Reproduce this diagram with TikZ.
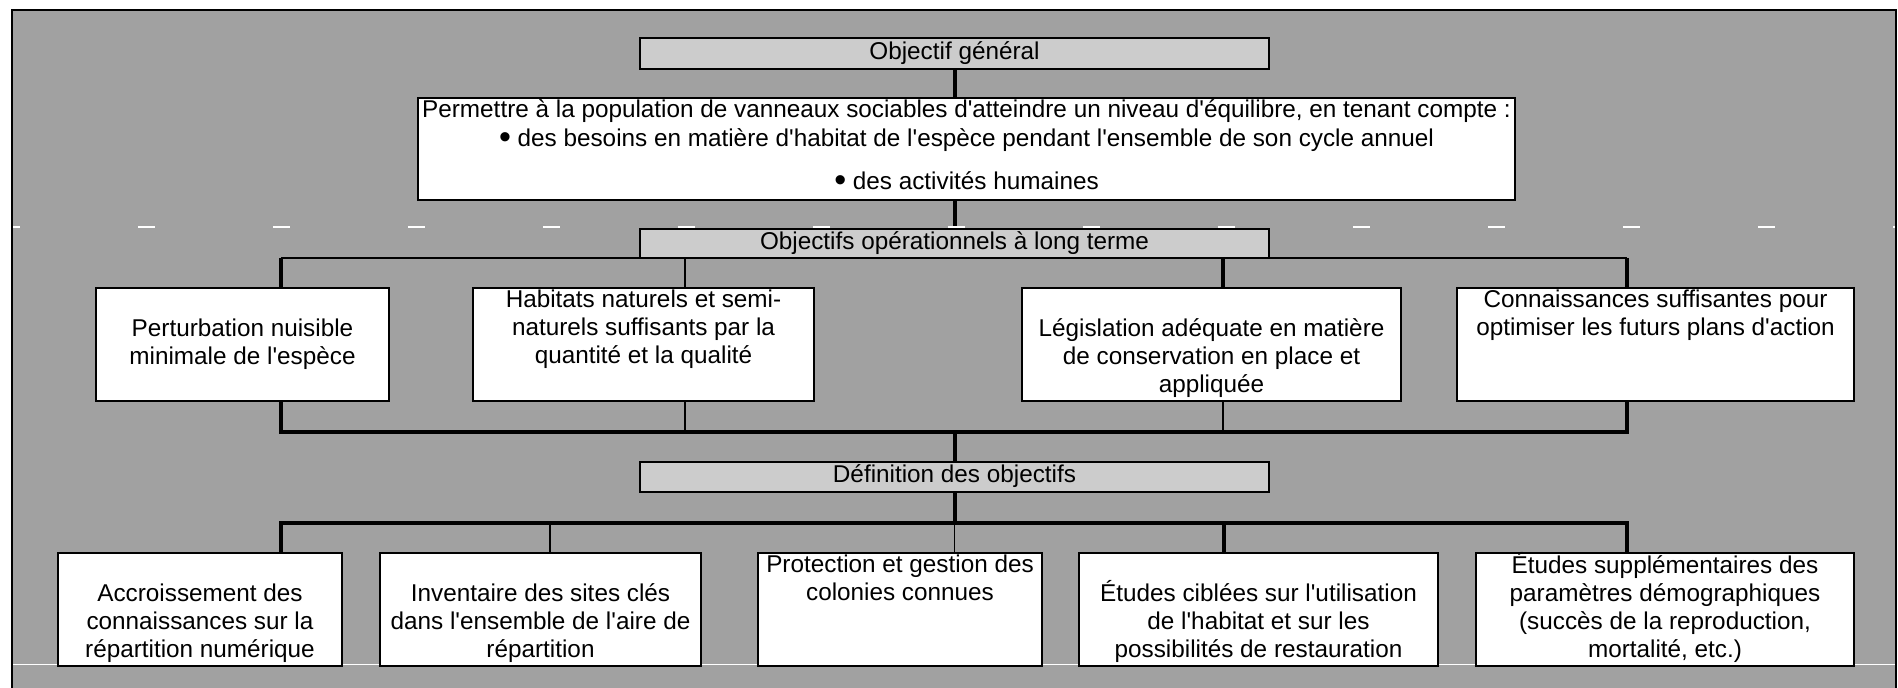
\documentclass[tikz,border=0pt]{standalone}
\usepackage{fontspec}
\setmainfont{Liberation Sans}[Ligatures=TeXOff]
\usetikzlibrary{positioning}
\definecolor{panel}{gray}{0.63}
\definecolor{headfill}{gray}{0.8}
\setlength{\lineskiplimit}{-20pt}
\newcommand{\puce}{\raisebox{-0.8pt}{\fontsize{17pt}{14pt}\selectfont\textbullet}}

\begin{document}
\begin{tikzpicture}[x=0.5pt,y=-0.5pt,line join=miter]
  \tikzstyle{box}=[draw,line width=1pt,fill=white,inner sep=0pt,outer sep=0pt,align=center,
    font=\fontsize{12.15pt}{14pt}\selectfont,execute at begin node=\strut,execute at end node=\strut]
  \tikzstyle{head}=[box,fill=headfill,minimum width=314.5pt]
  \tikzstyle{lvl}=[box,minimum height=56.5pt]
  \tikzstyle{bus}=[line width=2pt]
  \tikzstyle{twig}=[line width=0.7pt]
  \useasboundingbox (0,0) rectangle (1898,688);
  % background panel
  \draw[line width=1pt,fill=panel] (12,10) rectangle (1896,700);
  \draw[white,line width=0.5pt] (13,664) -- (1895,664);

  % general objective
  \node[head,minimum height=15.5pt] (og) at (954.5,53.5) {Objectif général};
  \node[box,minimum width=548.5pt,minimum height=51pt,font=\fontsize{12.15pt}{14.5pt}\selectfont] (goal) at (966.5,149)
    {Permettre à la population de vanneaux sociables d'atteindre un niveau d'équilibre, en tenant compte :\\
     \puce{} des besoins en matière d'habitat de l'espèce pendant l'ensemble de son cycle annuel\\[7pt]
     \puce{} des activités humaines};

  % long term objectives
  \node[head,minimum height=14.5pt] (oolt) at (954.5,243.5) {Objectifs opérationnels à long terme};
  \node[lvl,minimum width=146.5pt] (lt1) at (242.5,344.5) {\strut\\Perturbation nuisible\\minimale de l'espèce\\\strut};
  \node[lvl,minimum width=170.5pt] (lt2) at (643.5,344.5) {Habitats naturels et semi-\\naturels suffisants par la\\quantité et la qualité\\\strut};
  \node[lvl,minimum width=189.5pt] (lt3) at (1211.5,344.5) {\strut\\Législation adéquate en matière\\de conservation en place et\\appliquée};
  \node[lvl,minimum width=198.5pt] (lt4) at (1655.5,344.5) {Connaissances suffisantes pour\\optimiser les futurs plans d'action\\\strut\\\strut};

  % objectives
  \node[head,minimum height=15pt] (def) at (954.5,477) {Définition des objectifs};
  \node[lvl,minimum width=142pt] (ob1) at (200,609.5) {\strut\\Accroissement des\\connaissances sur la\\répartition numérique};
  \node[lvl,minimum width=160.5pt] (ob2) at (540.5,609.5) {\strut\\Inventaire des sites clés\\dans l'ensemble de l'aire de\\répartition};
  \node[lvl,minimum width=142pt] (ob3) at (900,609.5) {Protection et gestion des\\colonies connues\\\strut\\\strut};
  \node[lvl,minimum width=179.5pt] (ob4) at (1258.5,609.5) {\strut\\Études ciblées sur l'utilisation\\de l'habitat et sur les\\possibilités de restauration};
  \node[lvl,minimum width=189pt] (ob5) at (1665,609.5) {Études supplémentaires des\\paramètres démographiques\\(succès de la reproduction,\\mortalité, etc.)};

  % bus points
  \coordinate (ja) at (281,258);
  \coordinate (jb) at (685,258);
  \coordinate (jc) at (1223,258);
  \coordinate (jd) at (1627,258);
  \coordinate (ka) at (281,432);
  \coordinate (kd) at (1627,432);
  \coordinate (ma) at (281,523);
  \coordinate (mb) at (550,523);
  \coordinate (mc) at (1224,523);
  \coordinate (md) at (1627,523);

  \draw[bus] (og.south) -- (og.south |- goal.north);
  \draw[bus] (oolt.north |- goal.south) -- (oolt.north);
  \draw[twig] (ja) -- (jd);
  \draw[bus] (ja) -- (ja |- lt1.north);
  \draw[twig] (jb) -- (jb |- lt2.north);
  \draw[bus] (jc) -- (jc |- lt3.north);
  \draw[bus] (jd) -- (jd |- lt4.north);
  \draw[bus] (ja |- lt1.south) -- (ka) -- (kd) -- (jd |- lt4.south);
  \draw[twig] (jb |- lt2.south) -- (jb |- ka);
  \draw[twig] (jc |- lt3.south) -- (jc |- ka);
  \draw[bus] (def.north |- ka) -- (def.north);
  \draw[bus] (def.south) -- (def.south |- ma);
  \draw[bus] (ma |- ob1.north) -- (ma) -- (md) -- (md |- ob5.north);
  \draw[twig] (mb) -- (mb |- ob2.north);
  \draw[twig] (def.south |- ma) -- (def.south |- ob3.north);
  \draw[bus] (mc) -- (mc |- ob4.north);

  % white marks
  \draw[white,line width=1pt,dash pattern=on 8.5pt off 59pt,dash phase=5pt] (13,227) -- (1895,227);
\end{tikzpicture}
\end{document}
